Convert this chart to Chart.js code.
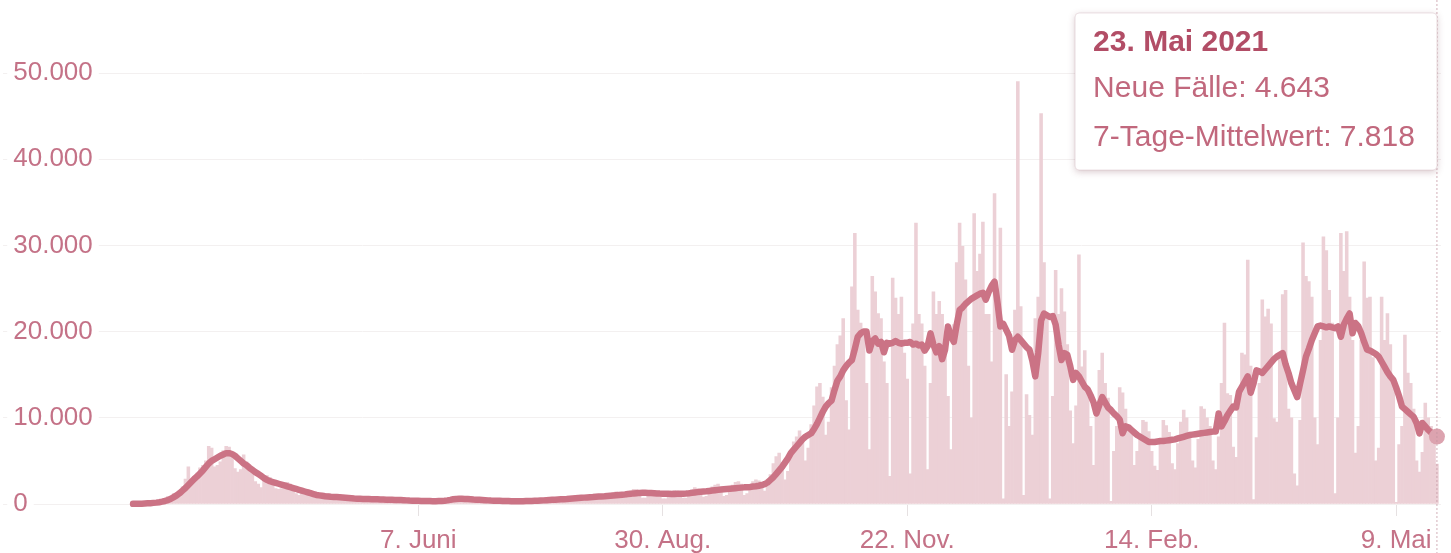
<!DOCTYPE html>
<html lang="de">
<head>
<meta charset="utf-8">
<title>Neue Fälle</title>
<script src="https://cdn.jsdelivr.net/npm/chart.js@4.4.1/dist/chart.umd.min.js"></script>
<style>
    html, body { margin: 0; padding: 0; background: #fff; }
    #wrap { position: relative; width: 1451px; height: 553px; }
</style>
</head>
<body>
<div id="wrap"><canvas id="casesChart"></canvas></div>
<script>
// Daily values from Sun 1 March 2020, one row per week
const newCases = [
    40, 20, 30, 50, 60, 80, 130,
    150, 200, 280, 350, 450, 900, 750,
    1200, 1000, 1400, 2000, 2900, 4300, 2600,
    2500, 3600, 4200, 4500, 5000, 6700, 6500,
    4300, 4500, 4900, 6200, 6700, 6600, 6000,
    4100, 3700, 4000, 5700, 4900, 4100, 3900,
    2600, 2300, 1900, 2900, 3300, 3100, 2600,
    1800, 1700, 1800, 2200, 2500, 2300, 2000,
    1200, 1000, 1300, 1600, 1700, 1500, 1200,
    800, 700, 900, 1200, 1200, 1100, 900,
    600, 500, 800, 900, 800, 700, 600,
    500, 400, 600, 750, 700, 650, 550,
    400, 350, 500, 650, 600, 550, 450,
    300, 250, 400, 550, 500, 450, 400,
    250, 200, 350, 450, 450, 400, 350,
    250, 200, 400, 600, 750, 800, 700,
    500, 450, 650, 700, 650, 600, 500,
    300, 300, 450, 550, 500, 450, 400,
    250, 250, 350, 450, 400, 400, 300,
    200, 200, 400, 500, 500, 450, 350,
    250, 250, 500, 600, 600, 600, 500,
    300, 350, 650, 800, 850, 850, 700,
    400, 450, 800, 900, 1000, 1100, 900,
    500, 550, 1000, 1200, 1300, 1400, 1200,
    650, 700, 1300, 1500, 1700, 1700, 1400,
    700, 700, 1300, 1600, 1600, 1500, 1300,
    600, 600, 1200, 1500, 1600, 1500, 1300,
    700, 700, 1400, 1700, 1900, 1800, 1600,
    800, 900, 1700, 2000, 2200, 2300, 1900,
    900, 1000, 1800, 2200, 2500, 2600, 2300,
    1000, 1200, 2100, 2600, 2800, 2700, 2500,
    1500, 2100, 3400, 4700, 5500, 5900, 4800,
    2800, 3800, 5800, 7200, 7800, 8500, 7400,
    5000, 6500, 9200, 11400, 13600, 14000, 12400,
    8000, 9500, 13500, 16000, 18500, 19500, 21500,
    12000, 8600, 25200, 31400, 22500, 21000, 19500,
    14000, 6300, 26400, 24600, 22100, 21500, 16500,
    14000, 3200, 26200, 23900, 22000, 24000, 17500,
    14500, 3500, 20900, 32600, 22000, 20900, 16000,
    4000, 14000, 24600, 22000, 23500, 22000, 18500,
    12500, 6300, 20800, 28000, 32600, 29900, 26000,
    16000, 10000, 33700, 27000, 29000, 32700, 22000,
    22000, 16500, 36000, 24700, 32000, 600, 15000,
    9000, 13000, 22500, 49000, 22900, 1000, 12700,
    10300, 8000, 21500, 24000, 45300, 28000, 22000,
    600, 12500, 27100, 22000, 25000, 22300, 18500,
    10800, 7000, 11400, 28900, 15900, 17800, 13000,
    9000, 4500, 11300, 15500, 17500, 14000, 12300,
    300, 6100, 9000, 13500, 12900, 11000, 9000,
    8600, 4500, 6100, 8000, 9700, 9500, 8400,
    6100, 4400, 3900, 7600, 9700, 9100, 8300,
    4700, 4000, 7000, 9500, 10900, 10000, 8000,
    5000, 4200, 7500, 11300, 11000, 10000, 9000,
    5000, 4000, 7800, 14000, 21000, 12800, 12600,
    6600, 5400, 13400, 17500, 17300, 28300, 16000,
    500, 7700, 14000, 23700, 21700, 22600, 20900,
    9900, 9500, 17000, 24300, 24800, 11000, 10000,
    3500, 2100, 9700, 30300, 26400, 25800, 24000,
    10000, 6900, 19000, 31000, 29400, 24800, 21000,
    1200, 10000, 31400, 27000, 31600, 24000, 19000,
    5900, 9000, 19000, 28100, 23900, 24000, 17000,
    5000, 6500, 24000, 19000, 22100, 18500, 14000,
    200, 6900, 9000, 19600, 15200, 14000, 11000,
    5000, 3700, 6000, 11700, 10000, 9000, 8000,
    4643
];

const weekAvg = [
    20, 25, 30, 40, 55, 75, 100,
    130, 160, 210, 270, 350, 450, 600,
    800, 1000, 1250, 1550, 1850, 2200, 2550,
    2900, 3200, 3550, 3900, 4300, 4700, 5000,
    5200, 5400, 5600, 5750, 5900, 5900, 5800,
    5600, 5300, 5000, 4700, 4500, 4200, 3950,
    3700, 3500, 3250, 3000, 2800, 2650, 2550,
    2450, 2350, 2250, 2150, 2050, 1950, 1850,
    1750, 1650, 1550, 1450, 1350, 1250, 1150,
    1050, 1000, 950, 900, 870, 840, 820,
    800, 780, 750, 720, 690, 660, 630,
    610, 600, 590, 580, 570, 560, 550,
    540, 530, 520, 500, 490, 480, 470,
    460, 450, 440, 420, 400, 390, 380,
    370, 360, 350, 340, 340, 330, 330,
    340, 350, 380, 420, 480, 550, 590,
    600, 600, 590, 570, 550, 520, 500,
    480, 460, 440, 420, 400, 390, 380,
    370, 360, 350, 340, 330, 320, 320,
    320, 330, 340, 350, 360, 370, 380,
    400, 420, 440, 460, 480, 500, 520,
    540, 560, 580, 610, 640, 670, 700,
    720, 740, 760, 780, 800, 830, 860,
    880, 900, 930, 960, 990, 1020, 1050,
    1080, 1110, 1150, 1190, 1230, 1260, 1290,
    1300, 1300, 1290, 1270, 1250, 1230, 1210,
    1200, 1190, 1180, 1170, 1170, 1180, 1190,
    1200, 1220, 1250, 1290, 1340, 1380, 1420,
    1450, 1480, 1520, 1560, 1600, 1640, 1680,
    1720, 1750, 1780, 1810, 1840, 1870, 1900,
    1930, 1950, 1980, 2020, 2060, 2120, 2200,
    2300, 2500, 2800, 3100, 3500, 3900, 4300,
    4800, 5300, 5900, 6300, 6700, 7100, 7500,
    7800, 8000, 8200, 8700, 9300, 10000, 10700,
    11300, 11700, 12000, 13200, 14300, 14800, 15500,
    16000, 16400, 16700, 18000, 19400, 19800, 20000,
    20000, 17800, 18900, 19200, 18600, 18800, 17600,
    18700, 18600, 18700, 18900, 18700, 18600, 18700,
    18700, 18800, 18500, 18600, 18400, 18500, 17800,
    18300, 19800, 18500, 17600, 18300, 16800, 17900,
    20600, 19500, 18800, 20800, 22500, 22800, 23200,
    23500, 23800, 24000, 24200, 24400, 24500, 23700,
    24600, 25300, 25800, 23400, 20600, 20900, 20200,
    19500, 17900, 19000, 19400, 19000, 18600, 18200,
    17900, 16600, 14800, 17500, 21300, 22100, 21900,
    21700, 21800, 20800, 18500, 16700, 17500, 17300,
    16000, 14400, 15200, 14800, 14200, 13600, 13300,
    12600, 11800, 10500, 11500, 12400, 11800, 11200,
    10900, 10500, 10200, 9800, 8200, 9000, 8900,
    8600, 8300, 8000, 7800, 7600, 7400, 7200,
    7200, 7200, 7250, 7300, 7300, 7350, 7400,
    7450, 7500, 7600, 7700, 7800, 7900, 8000,
    8050, 8100, 8150, 8200, 8250, 8300, 8350,
    8400, 8400, 10500, 9000, 9600, 10300, 10800,
    11300, 11200, 13000, 13600, 14200, 14800, 12900,
    14000, 15500, 15400, 15200, 15600, 16000, 16400,
    16800, 17100, 17300, 17500, 16200, 15200, 14000,
    13200, 12400, 14000, 15500, 17100, 18000, 19000,
    19800, 20600, 20700, 20600, 20500, 20600, 20500,
    20400, 20600, 19400, 20800, 21500, 22100, 19800,
    21000, 20600, 19800, 18800, 17900, 17800, 17600,
    17400, 17100, 16500, 15900, 15300, 14800, 14400,
    13500, 12500, 11300, 11000, 10700, 10400, 10100,
    9400, 8200, 9400, 9000, 8600, 8300, 8000,
    7818
];

// x axis: day index since 1 March 2020
const tickDays = [98, 182, 266, 350, 434];
const tickLabels = ['7. Juni', '30. Aug.', '22. Nov.', '14. Feb.', '9. Mai'];
const yTicks = [0, 10000, 20000, 30000, 40000, 50000];
const monthNames = ['Januar', 'Februar', 'März', 'April', 'Mai', 'Juni', 'Juli',
    'August', 'September', 'Oktober', 'November', 'Dezember'];

const dayLabels = newCases.map((_, i) => {
    const d = new Date(2020, 2, 1 + i);
    return d.getDate() + '. ' + monthNames[d.getMonth()] + ' ' + d.getFullYear();
});

function fmt(v) {
    return String(Math.round(v)).replace(/\B(?=(\d{3})+(?!\d))/g, '.');
}

const pink = '#c47287';

Chart.defaults.font.family = "'Liberation Sans', Arial, sans-serif";
Chart.defaults.color = pink;

Chart.Tooltip.positioners.pinnedTop = function (items) {
    if (!items.length) return false;
    const item = items.find(it => it.datasetIndex === 1) || items[0];
    return { x: item.element.x - 4, y: 13 };
};

// dotted hover line
const hoverLine = {
    id: 'hoverLine',
    afterDatasetsDraw(chart) {
        const active = chart.getActiveElements();
        if (!active.length) return;
        const ctx = chart.ctx;
        const x = active[0].element.x;
        ctx.save();
        ctx.setLineDash([2, 2]);
        ctx.strokeStyle = 'rgba(196, 150, 162, 0.75)';
        ctx.lineWidth = 1;
        ctx.beginPath();
        ctx.moveTo(x, 0);
        ctx.lineTo(x, chart.height);
        ctx.stroke();
        ctx.restore();
    }
};

// soft shadow behind the tooltip box
const tooltipShadow = {
    id: 'tooltipShadow',
    beforeTooltipDraw(chart, args) {
        const tt = args.tooltip;
        const ctx = chart.ctx;
        ctx.save();
        ctx.shadowColor = 'rgba(120, 60, 75, 0.28)';
        ctx.shadowBlur = 7;
        ctx.shadowOffsetY = 2;
        ctx.fillStyle = '#fff';
        ctx.beginPath();
        ctx.roundRect(tt.x, tt.y, tt.width, tt.height, 4);
        ctx.fill();
        ctx.restore();
    }
};

const ctx = document.getElementById('casesChart').getContext('2d');

const chart = new Chart(ctx, {
    data: {
        datasets: [
            {
                type: 'bar',
                label: 'Neue Fälle',
                data: newCases.map((v, i) => ({ x: i, y: v })),
                backgroundColor: '#ecd0d6',
                hoverBackgroundColor: '#ecd0d6',
                borderWidth: 0,
                barPercentage: 1,
                categoryPercentage: 1,
                order: 2
            },
            {
                type: 'line',
                label: '7-Tage-Mittelwert',
                data: weekAvg.map((v, i) => ({ x: i, y: v })),
                borderColor: '#cb7385',
                borderWidth: 6.5,
                borderJoinStyle: 'round',
                borderCapStyle: 'round',
                pointRadius: 0,
                pointHoverRadius: 8,
                pointHoverBorderWidth: 0,
                pointHoverBackgroundColor: '#dca3af',
                tension: 0,
                fill: false,
                clip: false,
                order: 1
            }
        ]
    },
    options: {
        responsive: true,
        maintainAspectRatio: false,
        animation: false,
        events: [],
        layout: { padding: { top: 73, right: 10, bottom: 0, left: 0 } },
        plugins: {
            legend: { display: false },
            tooltip: {
                position: 'pinnedTop',
                xAlign: 'right',
                yAlign: 'top',
                caretSize: 0,
                caretPadding: 0,
                backgroundColor: '#fff',
                borderColor: 'rgba(200, 170, 178, 0.35)',
                borderWidth: 1,
                cornerRadius: 4,
                displayColors: false,
                padding: { left: 18, right: 22, top: 12, bottom: 14 },
                titleColor: '#b24d66',
                titleFont: { size: 30, weight: 'bold' },
                titleMarginBottom: 10,
                bodyColor: '#c1687d',
                bodyFont: { size: 30 },
                bodySpacing: 13,
                callbacks: {
                    title: items => dayLabels[items[0].dataIndex],
                    label: item => item.dataset.label + ': ' + fmt(item.parsed.y)
                }
            }
        },
        scales: {
            x: {
                type: 'linear',
                min: -44.6,
                max: 449.4,
                offset: false,
                afterBuildTicks: axis => { axis.ticks = tickDays.map(v => ({ value: v })); },
                afterFit: axis => { axis.height = 49; },
                ticks: {
                    autoSkip: false,
                    maxRotation: 0,
                    padding: 9,
                    color: pink,
                    font: { size: 26 },
                    callback: v => tickLabels[tickDays.indexOf(v)]
                },
                grid: { offset: false, drawOnChartArea: false, tickLength: 12, color: '#e6e1e2' },
                border: { display: false }
            },
            y: {
                min: 0,
                max: 50000,
                afterBuildTicks: axis => { axis.ticks = yTicks.map(v => ({ value: v })); },
                afterFit: axis => { axis.width = 0; },
                ticks: {
                    mirror: true,
                    padding: 10,
                    color: pink,
                    font: { size: 26 },
                    showLabelBackdrop: true,
                    backdropColor: '#fff',
                    backdropPadding: { left: 6, right: 6, top: 2, bottom: 2 },
                    callback: v => fmt(v)
                },
                grid: { color: '#f3f0f0', drawTicks: false },
                border: { display: false }
            }
        }
    },
    plugins: [hoverLine, tooltipShadow]
});

const last = newCases.length - 1;
chart.setActiveElements([{ datasetIndex: 1, index: last }]);
chart.tooltip.setActiveElements(
    [{ datasetIndex: 0, index: last }, { datasetIndex: 1, index: last }],
    { x: 0, y: 0 }
);
chart.update();
</script>
</body>
</html>
